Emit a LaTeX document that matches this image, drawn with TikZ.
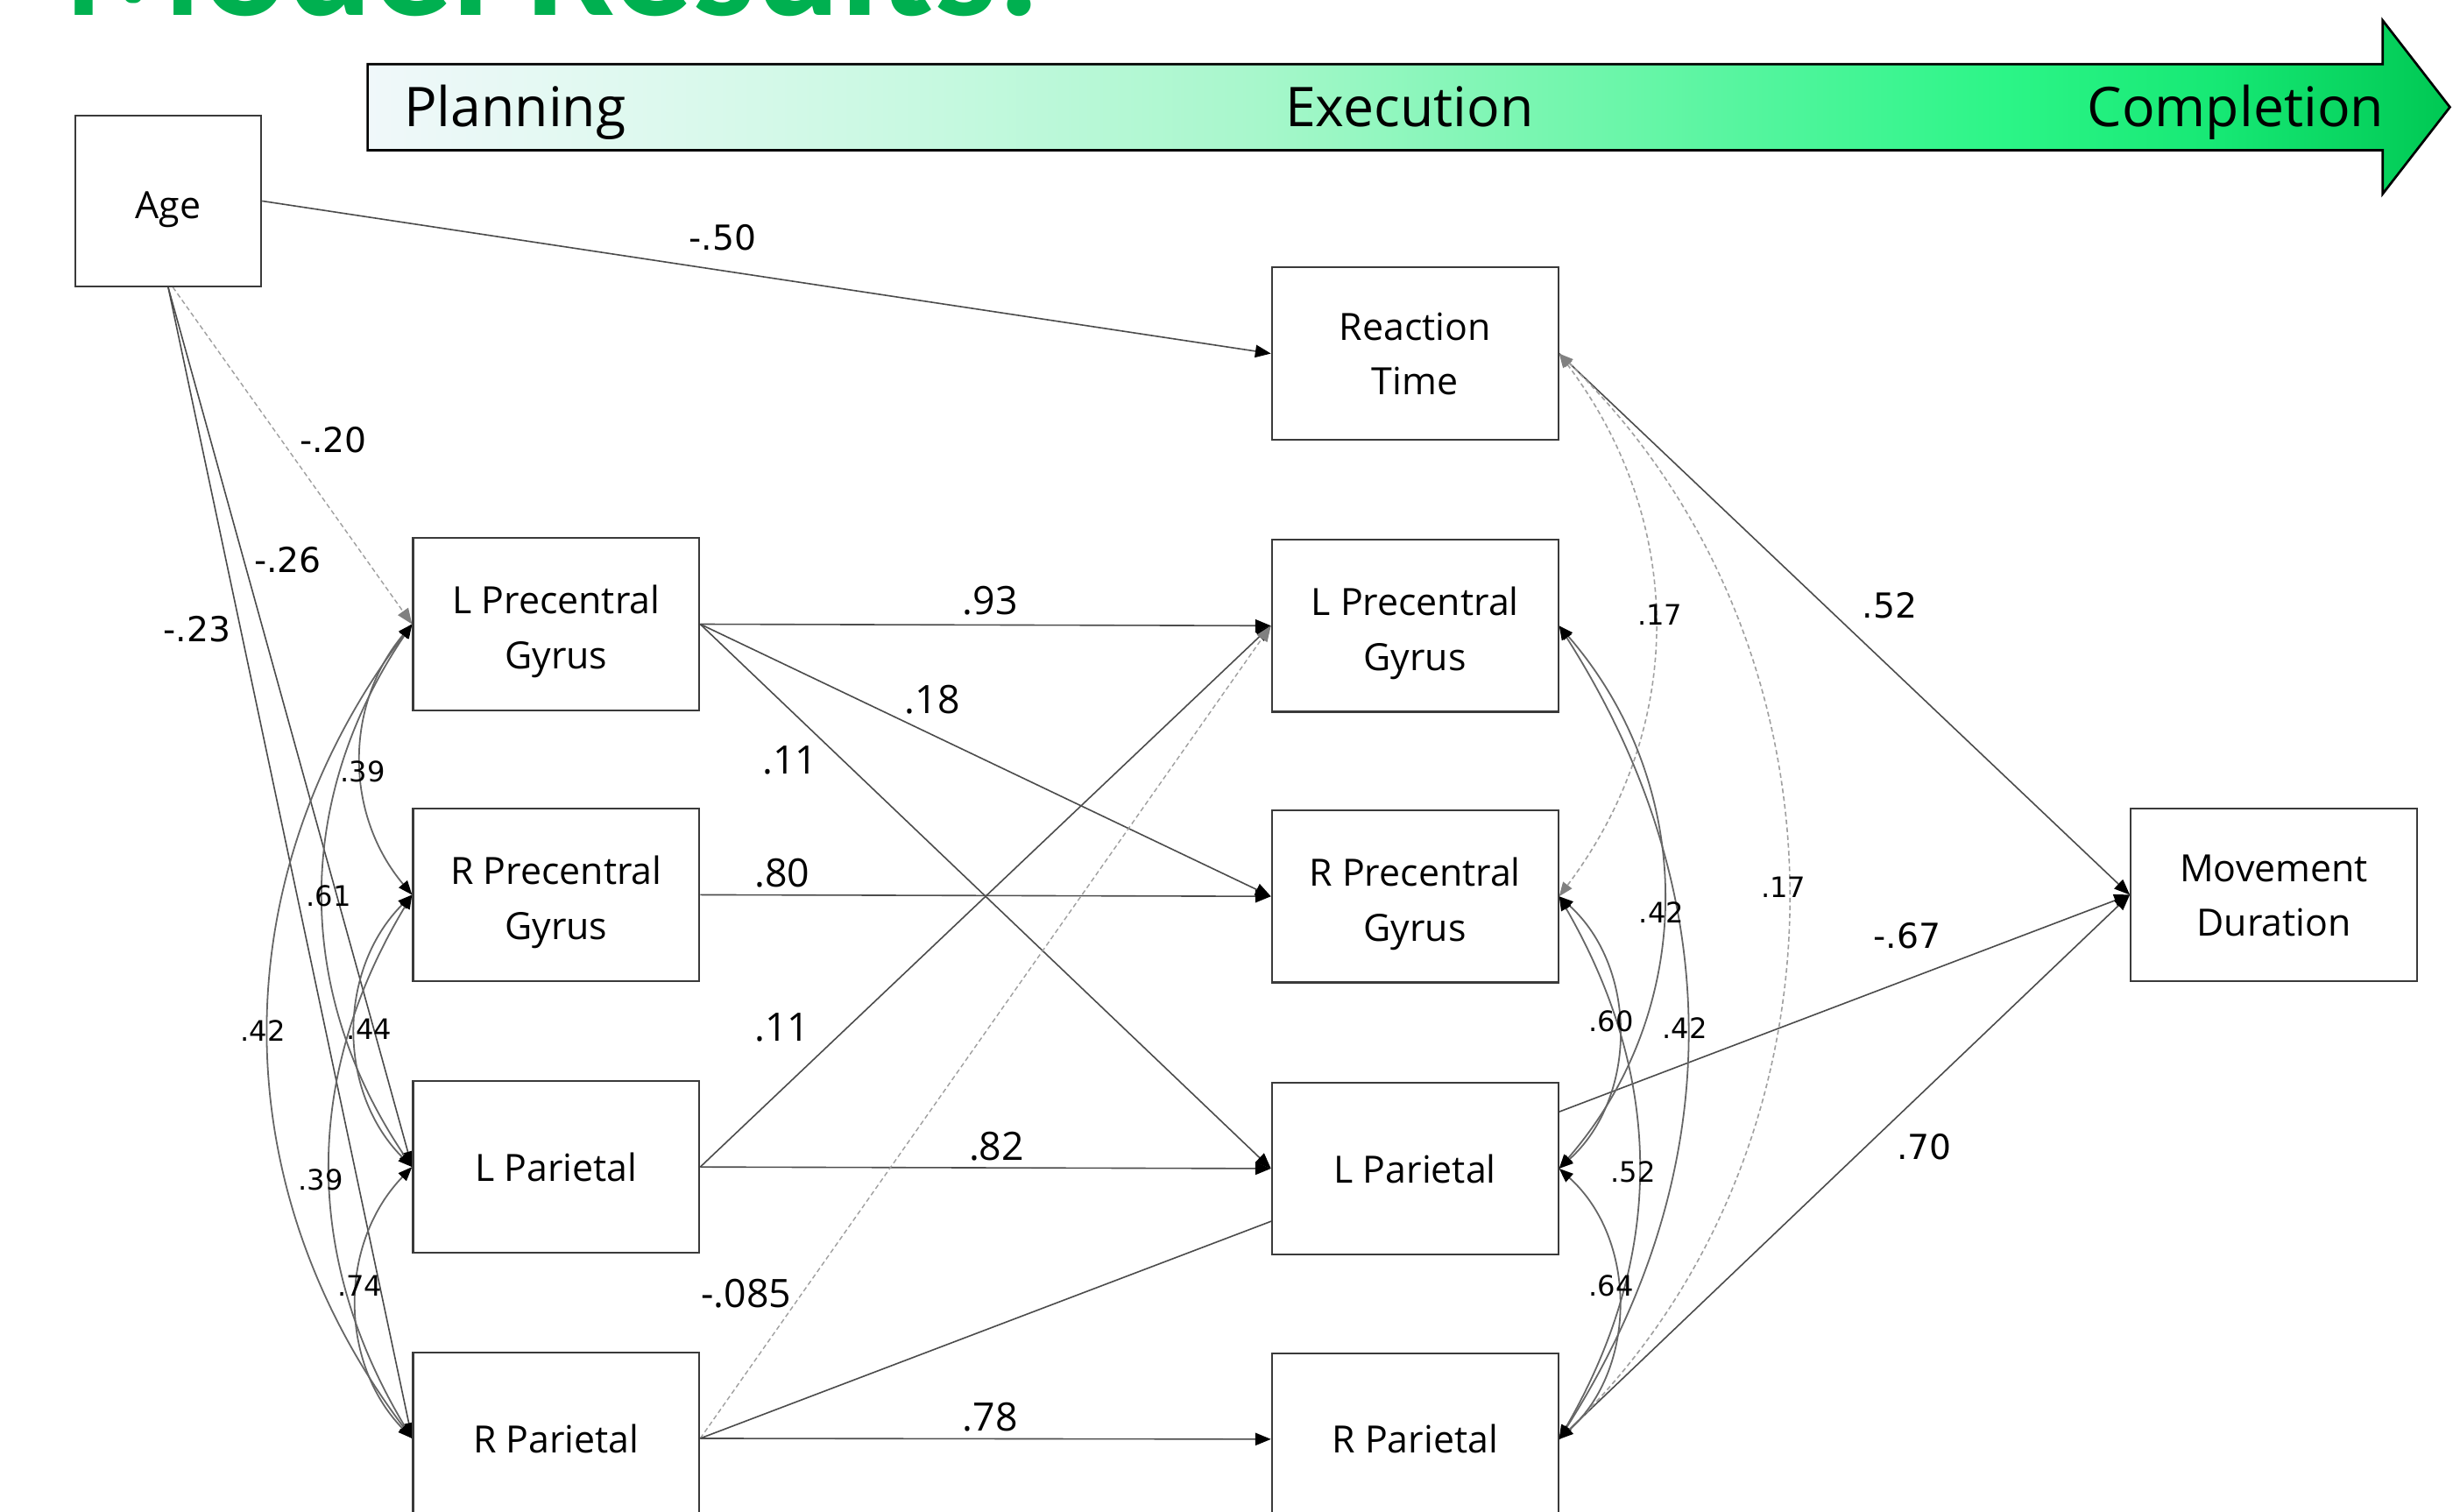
\documentclass[tikz,border=0pt]{standalone}
\usepackage{fontspec}
\setmainfont{Open Sans}
\newfontfamily\dejavu{DejaVu Sans}
\newfontfamily\titlefnt{Carlito}
\usetikzlibrary{arrows.meta}
\pgfdeclarelayer{bglayer}
\pgfsetlayers{bglayer,main}
\newcommand\bxtext[2][-4pt]{\raisebox{#1}[\height][\depth]{\begin{tabular}{@{}c@{}}#2\end{tabular}}}
\definecolor{titlegreen}{HTML}{00B050}
\definecolor{boxgray}{HTML}{3A3A3A}
\definecolor{linegray}{HTML}{4C4C4C}
\definecolor{curvegray}{HTML}{666666}
\definecolor{dashgray}{HTML}{A0A0A0}
\definecolor{sha}{HTML}{F0F8FA}
\definecolor{shb}{HTML}{DDF9EE}
\definecolor{shc}{HTML}{C6F9E0}
\definecolor{shd}{HTML}{A8F7CC}
\definecolor{she}{HTML}{74F6AE}
\definecolor{shf}{HTML}{4CF59A}
\definecolor{shg}{HTML}{2CF587}
\definecolor{shh}{HTML}{16E874}
\definecolor{shi}{HTML}{00C853}
\pgfdeclarehorizontalshading{banner}{100bp}{color(0bp)=(sha); color(25bp)=(sha); color(31.9bp)=(shb); color(38.7bp)=(shc); color(46.2bp)=(shd); color(53.7bp)=(she); color(59.4bp)=(shf); color(64.3bp)=(shg); color(69.5bp)=(shh); color(75bp)=(shi); color(100bp)=(shi)}
\tikzset{
  box/.style={draw=boxgray, line width=1.2pt, fill=white, minimum width=183pt, minimum height=110pt, inner sep=0pt, align=center, font=\fontsize{24}{35}\selectfont},
  pth/.style={draw=linegray, line width=0.9pt, -{Triangle[length=10pt,width=8pt,color=black]}},
  dpth/.style={draw=dashgray, line width=0.8pt, dash pattern=on 3pt off 2pt, -{Triangle[length=10pt,width=8pt,color=gray]}},
  corr/.style={draw=curvegray, line width=1pt, {Triangle[length=9pt,width=7pt,color=black]}-{Triangle[length=9pt,width=7pt,color=black]}},
  dcorr/.style={draw=dashgray, line width=0.9pt, dash pattern=on 3pt off 2pt, {Triangle[length=9pt,width=7pt,color=gray]}-{Triangle[length=9pt,width=7pt,color=gray]}},
  lab/.style={font=\fontsize{25}{25}\selectfont, inner sep=0pt},
  dlab/.style={font=\dejavu\fontsize{22}{22}\selectfont, inner sep=0pt},
  clab/.style={font=\dejavu\fontsize{18}{18}\selectfont, inner sep=0pt},
  phase/.style={font=\fontsize{35}{35}\selectfont, inner sep=0pt}
}
\begin{document}
\begin{tikzpicture}[x=1pt,y=1pt]
\useasboundingbox (0,0) rectangle (1568,-966);
% title (cut off at top)
\node[anchor=base west, text=titlegreen, inner sep=0pt, font=\titlefnt\bfseries\fontsize{101}{101}\selectfont] (title) at (41,-10) {Model Results:};
% banner arrow
\shade[shading=banner, draw=black, line width=1.5pt, line join=miter]
  (235,-41) -- (1523,-41) -- (1523,-13) -- (1566,-68.5) -- (1523,-124) -- (1523,-96) -- (235,-96) -- cycle;
\node[phase, anchor=base west] (planning) at (258,-81) {Planning};
\node[phase, anchor=base] (execution) at (901,-81) {Execution};
\node[phase, anchor=base east] (completion) at (1524,-81) {Completion};
% nodes
\node[box, minimum width=119pt, minimum height=109pt] (age) at (107.5,-128.5) {\bxtext{Age}};
\node[box] (rt) at (904.5,-226) {\bxtext[-2pt]{Reaction\\Time}};
\node[box] (lpgL) at (355.5,-399) {\bxtext{L Precentral\\Gyrus}};
\node[box] (rpgL) at (355.5,-572) {\bxtext{R Precentral\\Gyrus}};
\node[box] (lparL) at (355.5,-746) {L Parietal};
\node[box] (rparL) at (355.5,-919.5) {R Parietal};
\node[box] (lpgM) at (904.5,-400) {\bxtext{L Precentral\\Gyrus}};
\node[box] (rpgM) at (904.5,-573) {\bxtext{R Precentral\\Gyrus}};
\node[box] (lparM) at (904.5,-747) {L Parietal};
\node[box] (rparM) at (904.5,-920) {R Parietal};
\node[box] (md) at (1453.5,-572) {\bxtext[-2pt]{Movement\\Duration}};
% connectors
\begin{pgfonlayer}{bglayer}
\draw[pth] (age.east) -- (rt.west);
\draw[dpth] ([xshift=3pt]age.south) -- (lpgL.west);
\draw[pth] (age.south) -- (lparL.west);
\draw[pth] (age.south) -- (rparL.west);
\draw[pth] (lpgL.east) -- (lpgM.west);
\draw[pth] (lpgL.east) -- (rpgM.west);
\draw[pth] (lpgL.east) -- (lparM.west);
\draw[pth] (rpgL.east) -- (rpgM.west);
\draw[pth] (lparL.east) -- (lpgM.west);
\draw[pth] (lparL.east) -- (lparM.west);
\draw[dpth] (rparL.east) -- (lpgM.west);
\draw[pth] (rparL.east) -- (rparM.west);
\draw[pth] (rparL.east) -- (md.west);
\draw[pth] (rt.east) -- (md.west);
\draw[pth] (rparM.east) -- (md.west);
% left correlations
\draw[corr] (lpgL.west) to[bend right=40] (rpgL.west);
\draw[corr] (lpgL.west) to[bend right=34] (lparL.west);
\draw[corr] (lpgL.west) to[bend right=37] (rparL.west);
\draw[corr] (rpgL.west) to[bend right=45] (lparL.west);
\draw[corr] (rpgL.west) to[bend right=31] (rparL.west);
\draw[corr] (lparL.west) to[bend right=44] (rparL.west);
% right correlations
\draw[dcorr] (rt.east) to[bend left=37] (rpgM.east);
\draw[dcorr] (rt.east) to[bend left=46] (rparM.east);
\draw[corr] (lpgM.east) to[bend left=41] (lparM.east);
\draw[corr] (lpgM.east) to[bend left=32.5] (rparM.east);
\draw[corr] (rpgM.east) to[bend left=48] (lparM.east);
\draw[corr] (rpgM.east) to[bend left=30] (rparM.east);
\draw[corr] (lparM.east) to[bend left=48] (rparM.east);
\end{pgfonlayer}
% labels
\node[dlab] (l1) at (462,-152) {-.50};
\node[dlab] (l2) at (213,-281) {-.20};
\node[dlab] (l3) at (184,-358) {-.26};
\node[dlab] (l4) at (126,-402) {-.23};
\node[lab] (l5) at (633,-384) {.93};
\node[lab] (l6) at (596,-447) {.18};
\node[lab] (l7) at (505,-486) {.11};
\node[lab] (l8) at (500,-558) {.80};
\node[lab] (l9) at (500,-657) {.11};
\node[lab] (l10) at (637,-733) {.82};
\node[lab] (l11) at (477,-827) {-.085};
\node[lab] (l12) at (633,-906) {.78};
\node[dlab] (l13) at (1208,-387) {.52};
\node[dlab] (l14) at (1219,-598) {-.67};
\node[dlab] (l15) at (1230,-733) {.70};
\node[clab] (c1) at (232,-493) {.39};
\node[clab] (c2) at (210,-573) {.61};
\node[clab] (c3) at (168,-659) {.42};
\node[clab] (c4) at (236,-658) {.44};
\node[clab] (c5) at (205,-754) {.39};
\node[clab] (c6) at (230,-822) {.74};
\node[clab] (c7) at (1061,-393) {.17};
\node[clab] (c8) at (1140,-567) {.17};
\node[clab] (c9) at (1062,-583) {.42};
\node[clab] (c10) at (1077,-657) {.42};
\node[clab] (c11) at (1030,-653) {.60};
\node[clab] (c12) at (1044,-749) {.52};
\node[clab] (c13) at (1030,-822) {.64};
\end{tikzpicture}
\end{document}
